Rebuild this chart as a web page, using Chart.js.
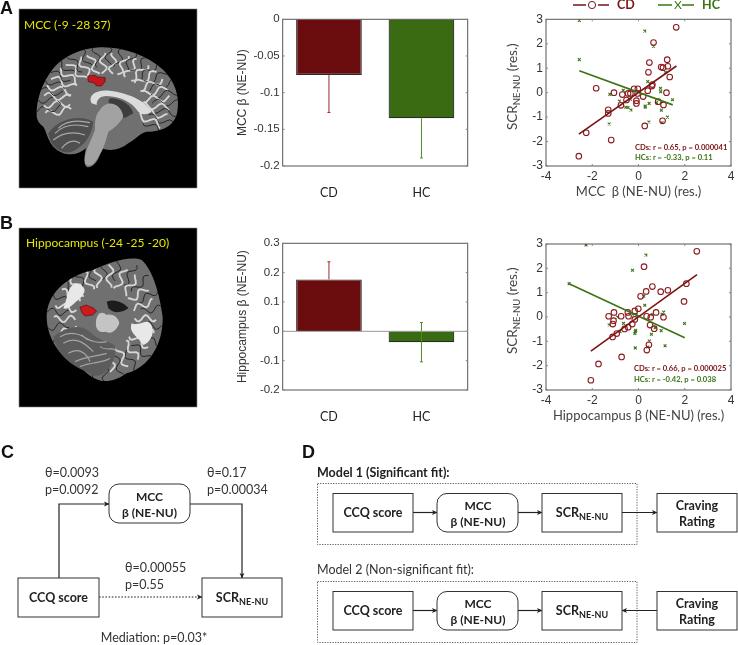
<!DOCTYPE html>
<html>
<head>
<meta charset="utf-8">
<title>MCC and hippocampus</title>
<script src="https://cdn.jsdelivr.net/npm/chart.js@4/dist/chart.umd.min.js"></script>
<style>
html, body { margin:0; padding:0; background:#fff; width:738px; height:645px; overflow:hidden; }
canvas { position:absolute; }
#overlay { position:absolute; left:0; top:0; }
#overlay text { font-family:Lato,"Open Sans",sans-serif; fill:#333; }
#overlay .b { font-weight:700; fill:#222; }
#overlay .box { fill:#fff; stroke:#333; stroke-width:1; }
#overlay .ln { fill:none; stroke:#222; stroke-width:1.2; }
#overlay .letter { font-family:"Liberation Sans",Arial,sans-serif; font-weight:700; font-size:18px; fill:#111; }
</style>
</head>
<body>
<canvas id="barA" width="270" height="215" style="left:220px;top:0"></canvas>
<canvas id="barB" width="270" height="205" style="left:220px;top:225px"></canvas>
<canvas id="scatterA" width="248" height="215" style="left:490px;top:0"></canvas>
<canvas id="scatterB" width="248" height="205" style="left:490px;top:225px"></canvas>

<svg id="overlay" width="738" height="645" viewBox="0 0 738 645" xmlns="http://www.w3.org/2000/svg">
  <defs>
    <filter id="soft"><feGaussianBlur stdDeviation="1.3"/></filter>
    <marker id="arr" markerWidth="6" markerHeight="6" refX="5" refY="3" orient="auto" markerUnits="userSpaceOnUse">
      <path d="M0,0.6 L5.5,3 L0,5.4 L1.3,3 Z" fill="#222"/>
    </marker>
    <clipPath id="clipA"><path d="M110,350 C108,300 125,250 160,205 C190,170 240,145 300,142 C370,140 440,165 490,210 C525,245 540,290 532,335 C525,375 490,395 440,395 L300,400 L140,390 C118,372 112,362 110,350 Z"/></clipPath>
    <clipPath id="clipB"><path d="M140,290 C140,230 190,170 280,150 C320,130 390,105 425,120 C460,150 480,230 488,290 C490,370 450,440 380,460 C330,495 290,490 250,450 C190,425 140,360 140,290 Z"/></clipPath>
  </defs>

  <!-- panel letters -->
  <text class="letter" x="0" y="14">A</text>
  <text class="letter" x="0" y="229">B</text>
  <text class="letter" x="1" y="458">C</text>
  <text class="letter" x="302" y="458">D</text>

  <!-- brain A, sagittal slice -->
  <rect x="19" y="9" width="178" height="179" fill="#000" stroke="#888" stroke-width=".6"/>
  <g transform="scale(.3333)">
    <g filter="url(#soft)">
      <path d="M110,350 C108,300 125,250 160,205 C190,170 240,145 300,142 C370,140 440,165 490,210 C525,245 540,290 532,335 C525,375 490,395 440,395 C420,400 410,415 385,430 C360,450 330,455 305,445 C300,475 285,500 265,502 C250,502 252,470 258,445 C230,470 190,470 160,440 C140,415 140,395 130,380 C118,372 112,362 110,350 Z" fill="#707070"/>
      <g id="foldsA" clip-path="url(#clipA)"></g>
      <path d="M275,310 C262,285 290,268 330,272 C380,278 435,300 455,335 C440,345 425,345 415,335 C395,305 360,290 320,288 C298,288 290,300 290,315 Z" fill="#dcdcdc"/>
      <path d="M330,295 C370,295 395,320 400,340 C380,350 370,365 345,340 C330,320 320,305 330,295 Z" fill="#3c3c3c"/>
      <path d="M300,330 C320,295 365,310 370,350 C355,375 340,385 325,395 C315,430 310,450 295,470 C285,495 262,505 255,490 C250,460 270,430 285,390 C285,365 285,345 300,330 Z" fill="#a2a2a2"/>
      <path d="M145,400 C170,360 235,340 280,365 C275,410 250,440 215,455 C185,465 150,440 145,400 Z" fill="#505050"/>
      <path d="M165,400 C190,375 225,370 265,380 M160,420 C190,395 225,395 255,405 M185,445 C205,420 225,420 240,430 M175,385 C200,360 235,360 270,368" fill="none" stroke="#a8a8a8" stroke-width="3.5"/>
    </g>
    <path d="M263,228 L285,226 L292,231 L316,233 L315,245 L304,258 L288,257 L283,249 L265,245 Z" fill="#c4161c" stroke="#300" stroke-width="1.5"/>
  </g>
  <text x="24" y="29" font-size="12" style="fill:#e6e600">MCC (-9 -28 37)</text>

  <!-- brain B, axial slice -->
  <rect x="19" y="228" width="178" height="179" fill="#000" stroke="#888" stroke-width=".6"/>
  <g transform="translate(0,220) scale(.3333)">
    <g filter="url(#soft)">
      <path d="M140,290 C140,230 190,170 280,150 C320,130 390,105 425,120 C460,150 480,230 488,290 C490,370 450,440 380,460 C330,495 290,490 250,450 C190,425 140,360 140,290 Z" fill="#707070"/>
      <g id="foldsB" clip-path="url(#clipB)"></g>
      <path d="M190,265 C205,230 200,205 225,190 C250,195 270,210 235,240 C215,255 205,270 190,265 Z" fill="#e8e8e8"/>
      <path d="M395,310 C420,320 435,295 450,310 C470,335 450,370 430,375 C415,350 385,340 395,310 Z" fill="#e8e8e8"/>
      <path d="M320,245 C345,235 375,250 385,265 C370,275 345,285 325,265 Z" fill="#1e1e1e"/>
      <path d="M160,350 C200,320 245,305 280,345 C320,375 355,360 345,400 C340,445 300,490 260,455 C210,435 170,400 160,350 Z" fill="#5c5c5c"/>
      <path d="M190,370 C230,345 260,375 280,395 M205,400 C235,380 260,400 270,425 M240,440 C275,425 310,430 330,415 M300,380 C320,395 335,380 345,390 M245,345 C265,365 300,370 320,365 M180,350 C215,330 250,345 262,360 M225,425 C255,410 285,410 320,400" fill="none" stroke="#a4a4a4" stroke-width="3.5"/>
      <path d="M288,305 C290,280 305,270 320,285 C335,280 355,290 358,310 C350,330 335,345 318,335 C300,340 285,330 288,305 Z" fill="#c4c4c4"/>
    </g>
    <path d="M240,262 L258,255 L280,264 L290,273 L278,285 L255,288 L246,278 Z" fill="#cc1a1e" stroke="#300" stroke-width="1.5"/>
  </g>
  <text x="26" y="247" font-size="12" style="fill:#e6e600">Hippocampus (-24 -25 -20)</text>

  <!-- scatter legend -->
  <path d="M573,5 H586 M598,5 H609" stroke="#7a1315" stroke-width="1.6" fill="none"/>
  <circle cx="592" cy="5" r="3.6" fill="#fff" stroke="#7a1315" stroke-width="1"/>
  <text x="617" y="9" font-size="12.5" font-weight="700" style="fill:#7a1315">CD</text>
  <path d="M658,5 H672 M682,5 H694" stroke="#3a7414" stroke-width="1.6" fill="none"/>
  <text x="674" y="9" font-size="12" style="fill:#3a7414">X</text>
  <text x="702" y="9" font-size="12.5" font-weight="700" style="fill:#3a7414">HC</text>

  <!-- scatter y titles -->
  <text transform="translate(517,130) rotate(-90)" font-size="13.5" style="fill:#444">SCR<tspan dy="3" font-size="9.5">NE-NU</tspan><tspan dy="-3"> (res.)</tspan></text>
  <text transform="translate(517,354) rotate(-90)" font-size="13.5" style="fill:#444">SCR<tspan dy="3" font-size="9.5">NE-NU</tspan><tspan dy="-3"> (res.)</tspan></text>

  <!-- scatter statistics -->
  <text x="635" y="150" font-size="7.6" font-weight="700" style="fill:#7a1315">CDs: r = 0.65, p = 0.000041</text>
  <text x="635" y="160" font-size="7.6" font-weight="700" style="fill:#3a7414">HCs: r = -0.33, p = 0.11</text>
  <text x="634" y="371" font-size="7.6" font-weight="700" style="fill:#7a1315">CDs: r = 0.66, p = 0.000025</text>
  <text x="634" y="382" font-size="7.6" font-weight="700" style="fill:#3a7414">HCs: r = -0.42, p = 0.038</text>

  <!-- panel C -->
  <path class="ln" d="M59,578 V504 H109" marker-end="url(#arr)"/>
  <path class="ln" d="M190,504 H242 V578" marker-end="url(#arr)"/>
  <path class="ln" d="M99,597 H202" stroke-dasharray="1.6 1.6" marker-end="url(#arr)"/>
  <rect class="box" x="18" y="578" width="81" height="39"/>
  <rect class="box" x="202" y="578" width="80" height="39"/>
  <rect class="box" x="109" y="484" width="81" height="39" rx="10"/>
  <text class="b" x="58.5" y="602" font-size="12.5" text-anchor="middle">CCQ score</text>
  <text class="b" x="242" y="602" font-size="12.5" text-anchor="middle">SCR<tspan dy="2.5" font-size="9">NE-NU</tspan></text>
  <text class="b" x="149.5" y="501" font-size="12" text-anchor="middle">MCC</text>
  <text class="b" x="149.5" y="517" font-size="12" text-anchor="middle">β (NE-NU)</text>
  <text x="45" y="477" font-size="12.5">θ=0.0093</text>
  <text x="45" y="494" font-size="12.5">p=0.0092</text>
  <text x="207" y="477" font-size="12.5">θ=0.17</text>
  <text x="207" y="494" font-size="12.5">p=0.00034</text>
  <text x="125" y="572" font-size="12.5">θ=0.00055</text>
  <text x="125" y="589" font-size="12.5">p=0.55</text>
  <text x="154" y="642" font-size="12.5" text-anchor="middle">Mediation: p=0.03*</text>

  <!-- panel D, model 1 -->
  <text class="b" x="317" y="477" font-size="12.5">Model 1 (Significant fit):</text>
  <rect x="317.5" y="483.5" width="319.5" height="61" fill="none" stroke="#555" stroke-width=".9" stroke-dasharray="1.3 1.3"/>
  <path class="ln" d="M413,512.5 H437" marker-end="url(#arr)"/>
  <path class="ln" d="M518,512.5 H542" marker-end="url(#arr)"/>
  <path class="ln" d="M622,512.5 H657" marker-end="url(#arr)"/>
  <rect class="box" x="333" y="493.5" width="80" height="38.5"/>
  <rect class="box" x="437" y="493.5" width="81" height="38.5" rx="10"/>
  <rect class="box" x="542" y="493.5" width="80" height="38.5"/>
  <rect class="box" x="657" y="493.5" width="80" height="38.5"/>
  <text class="b" x="373" y="517" font-size="12.5" text-anchor="middle">CCQ score</text>
  <text class="b" x="478" y="510" font-size="12" text-anchor="middle">MCC</text>
  <text class="b" x="478" y="526" font-size="12" text-anchor="middle">β (NE-NU)</text>
  <text class="b" x="582" y="517" font-size="12.5" text-anchor="middle">SCR<tspan dy="2.5" font-size="9">NE-NU</tspan></text>
  <text class="b" x="697" y="510" font-size="12.5" text-anchor="middle">Craving</text>
  <text class="b" x="697" y="526" font-size="12.5" text-anchor="middle">Rating</text>

  <!-- panel D, model 2 -->
  <text x="317" y="574" font-size="12.5">Model 2 (Non-significant fit):</text>
  <rect x="317.5" y="581.5" width="319.5" height="61" fill="none" stroke="#555" stroke-width=".9" stroke-dasharray="1.3 1.3"/>
  <path class="ln" d="M413,610.5 H437" marker-end="url(#arr)"/>
  <path class="ln" d="M518,610.5 H542" marker-end="url(#arr)"/>
  <path class="ln" d="M657,610.5 H622" marker-end="url(#arr)"/>
  <rect class="box" x="333" y="591.5" width="80" height="38.5"/>
  <rect class="box" x="437" y="591.5" width="81" height="38.5" rx="10"/>
  <rect class="box" x="542" y="591.5" width="80" height="38.5"/>
  <rect class="box" x="657" y="591.5" width="80" height="38.5"/>
  <text class="b" x="373" y="615" font-size="12.5" text-anchor="middle">CCQ score</text>
  <text class="b" x="478" y="608" font-size="12" text-anchor="middle">MCC</text>
  <text class="b" x="478" y="624" font-size="12" text-anchor="middle">β (NE-NU)</text>
  <text class="b" x="582" y="615" font-size="12.5" text-anchor="middle">SCR<tspan dy="2.5" font-size="9">NE-NU</tspan></text>
  <text class="b" x="697" y="608" font-size="12.5" text-anchor="middle">Craving</text>
  <text class="b" x="697" y="624" font-size="12.5" text-anchor="middle">Rating</text>
</svg>

<script>
// ---- data ----
const groups = ['CD', 'HC'];

const mccMeans = [-0.076, -0.135];
const mccErrLow = [-0.127, -0.189];
const mccErrHigh = [-0.076, -0.135];
const mccTicks = [-0.2, -0.15, -0.1, -0.05, 0];

const hipMeans = [0.177, -0.037];
const hipErrLow = [0.177, -0.104];
const hipErrHigh = [0.237, 0.03];
const hipTicks = [-0.2, -0.1, 0, 0.1, 0.2, 0.3];

const scatterXTicks = [-4, -2, 0, 2, 4];
const scatterYTicks = [-3, -2, -1, 0, 1, 2, 3];

const mccCdX = [1.63,.65,.47,.43,1.24,1.27,.98,1.06,1.35,1.21,.58,.6,.4,.2,-.03,-.19,-1.83,-1.06,-.7,-.45,-.35,-.09,-.09,-.52,-.76,-1.31,-1.31,.85,1.08,1.04,.27,-2.26,-1.18,-2.58,-.04];
const mccCdY = [2.67,2.05,1.23,.83,1.35,1.08,1.05,1.02,.64,0,.27,.33,.08,-.16,.16,.16,.18,0,-.08,-.03,-.03,-.33,-.44,-.3,-.52,-.7,-.85,-.37,-.5,-1.15,-1.36,-1.64,-1.94,-2.6,-.03];
const mccHcX = [-2.56,.27,.65,-2.56,1.17,.4,.95,.96,-.66,-.35,-1.24,-.83,-.35,1.47,.46,.29,.29,.78,-.55,-.45,-.33,.99,1.25,.45,1.02,-1.27];
const mccHcY = [2.95,2.52,1.9,1.35,.83,.45,.18,.04,.1,.11,-.07,-.34,-.27,-.29,-.44,-.55,-.6,-.41,-.6,-.61,-.71,-.72,-1,-1.2,-1.23,-1.28];
const mccCdFitX = [-2.58, 1.64];
const mccCdFitY = [-1.7, 1.09];
const mccHcFitX = [-2.56, 1.48];
const mccHcFitY = [.9, -.5];

const hipCdX = [2.52,.24,2.07,.6,1.27,.33,.96,.09,1.97,-.01,-.16,-.46,-1.06,-1.29,-.75,-.43,.76,.35,1.08,.53,-1.08,-1.11,-.16,-.27,-.45,-.6,-.94,-1.12,.5,.68,.45,.36,-.73,-1.73,-2.06];
const hipCdY = [2.7,2.07,1.37,1.25,1.1,1.05,1.04,.85,.64,.34,.25,.19,.19,.03,.03,.03,.19,.03,-.01,-.01,-.15,-.29,-.1,-.29,-.42,-.49,-.68,-.82,-.33,-.48,-1.14,-1.36,-1.64,-1.93,-2.6];
const hipHcX = [-2.27,.32,-.26,-3,.23,.27,-.91,-.23,-.09,1.09,1.02,.59,-1.27,-.65,1.99,.98,-.12,-.14,-.16,.56,.72,-.8,.47,.4,1.15,-.14];
const hipHcY = [2.96,2.55,1.92,1.37,.85,.48,0,.08,.08,.2,.11,.1,-.33,-.26,-.27,-.56,-.55,-.6,-.68,-.71,-.44,-.6,-.99,-1.23,-1.18,-1.27];
const hipCdFitX = [-2.06, 2.53];
const hipCdFitY = [-1.4, 1.74];
const hipHcFitX = [-3, 2];
const hipHcFitY = [1.37, -.85];

// ---- colours ----
const darkRed = '#7a1315';
const darkGreen = '#3a7414';
const axisGray = '#555';
const tickText = '#333';

Chart.defaults.animation = false;
Chart.defaults.responsive = false;
Chart.defaults.devicePixelRatio = 1;

function zip(xs, ys) {
  return xs.map((x, i) => ({x: x, y: ys[i]}));
}

// brain pictures only: wavy folds fanned out from the middle of the slice
function addFolds(id, cx, cy, rx, ry, from, to, count) {
  const g = document.getElementById(id);
  for (let i = 0; i < count; i++) {
    const a = (from + (to - from) * i / (count - 1)) * Math.PI / 180;
    const light = i % 2 === 0;
    const r0 = light ? 0.5 : 0.62, r1 = light ? 0.86 : 1.0;
    let d = '';
    for (let t = 0; t <= 1.001; t += 0.1) {
      const r = r0 + (r1 - r0) * t;
      const off = Math.sin(t * 9 + i * 1.7) * 10;
      const x = cx + Math.cos(a) * rx * r - Math.sin(a) * off;
      const y = cy + Math.sin(a) * ry * r + Math.cos(a) * off;
      d += (d ? 'L' : 'M') + x.toFixed(1) + ',' + y.toFixed(1);
    }
    const p = document.createElementNS('http://www.w3.org/2000/svg', 'path');
    p.setAttribute('d', d);
    p.setAttribute('fill', 'none');
    p.setAttribute('stroke', light ? '#d6d6d6' : '#262626');
    p.setAttribute('stroke-width', light ? 5.5 : 3);
    g.appendChild(p);
  }
}
addFolds('foldsA', 320, 305, 220, 170, 165, 395, 42);
addFolds('foldsB', 315, 295, 178, 188, 0, 350, 44);

// box round the plot and short inward ticks, like the original
const boxPlugin = {
  id: 'box',
  afterDatasetsDraw(chart) {
    const c = chart.ctx, a = chart.chartArea;
    c.save();
    c.strokeStyle = axisGray;
    c.lineWidth = 1;
    c.strokeRect(a.left, a.top, a.right - a.left, a.bottom - a.top);
    c.strokeStyle = '#888';
    chart.scales.y.ticks.forEach(t => {
      const y = chart.scales.y.getPixelForValue(t.value);
      c.beginPath();
      c.moveTo(a.left, y); c.lineTo(a.left + 2, y);
      c.moveTo(a.right, y); c.lineTo(a.right - 2, y);
      c.stroke();
    });
    if (chart.scales.x.type === 'linear') {
      chart.scales.x.ticks.forEach(t => {
        const x = chart.scales.x.getPixelForValue(t.value);
        c.beginPath();
        c.moveTo(x, a.bottom); c.lineTo(x, a.bottom - 2);
        c.moveTo(x, a.top); c.lineTo(x, a.top + 2);
        c.stroke();
      });
    }
    c.restore();
  }
};

function errorPlugin(low, high, colors) {
  return {
    id: 'errorBars',
    afterDatasetsDraw(chart) {
      const c = chart.ctx, y = chart.scales.y;
      const bars = chart.getDatasetMeta(0).data;
      c.save();
      c.lineWidth = 1;
      bars.forEach((b, i) => {
        c.strokeStyle = colors[i];
        const y1 = y.getPixelForValue(low[i]), y2 = y.getPixelForValue(high[i]);
        c.beginPath();
        c.moveTo(b.x, y1); c.lineTo(b.x, y2);
        if (low[i] < chart.data.datasets[0].data[i]) { c.moveTo(b.x - 1.5, y1); c.lineTo(b.x + 1.5, y1); }
        if (high[i] > chart.data.datasets[0].data[i]) { c.moveTo(b.x - 1.5, y2); c.lineTo(b.x + 1.5, y2); }
        c.stroke();
      });
      c.restore();
    }
  };
}

const zeroLine = {
  id: 'zeroLine',
  afterDatasetsDraw(chart) {
    const c = chart.ctx, a = chart.chartArea, y = chart.scales.y.getPixelForValue(0);
    c.save();
    c.strokeStyle = '#999';
    c.beginPath();
    c.moveTo(a.left, y); c.lineTo(a.right, y);
    c.stroke();
    c.restore();
  }
};

function barChart(id, means, low, high, ticks, ymin, ymax, title, top, bottom, extra) {
  new Chart(document.getElementById(id), {
    type: 'bar',
    data: {
      labels: groups,
      datasets: [{
        data: means,
        backgroundColor: ['#6b0d0f', '#3a6b12'],
        borderColor: '#2a2a2a',
        borderWidth: 1.2,
        categoryPercentage: 1,
        barPercentage: 0.71
      }]
    },
    options: {
      layout: {padding: {top: top, right: 22.3, left: 0, bottom: 0}},
      plugins: {legend: {display: false}, tooltip: {enabled: false}},
      scales: {
        x: {
          grid: {display: false, drawTicks: false}, border: {display: false},
          ticks: {padding: 19, color: '#222', font: {family: 'Lato', size: 12.5}, maxRotation: 0},
          afterFit: s => { s.height = bottom; }
        },
        y: {
          min: ymin, max: ymax,
          grid: {display: false, drawTicks: false}, border: {display: false},
          afterBuildTicks: s => { s.ticks = ticks.map(v => ({value: v})); },
          ticks: {
            padding: 3, color: tickText, font: {family: 'Liberation Sans', size: 11.5},
            callback: v => String(+v.toFixed(2))
          },
          title: {display: true, text: title, color: '#333', padding: {top: 15, bottom: 0}, font: {family: 'Liberation Sans', size: 12}},
          afterFit: s => { s.width = 62.7; }
        }
      }
    },
    plugins: [boxPlugin, errorPlugin(low, high, ['#9c2b30', '#4f8a2a'])].concat(extra || [])
  });
}

function scatterChart(id, cd, hc, cdFit, hcFit, title, top, bottom, titleGap) {
  new Chart(document.getElementById(id), {
    type: 'scatter',
    data: {
      datasets: [
        {data: cdFit, showLine: true, borderColor: darkRed, borderWidth: 1.6, pointRadius: 0},
        {data: hcFit, showLine: true, borderColor: darkGreen, borderWidth: 1.6, pointRadius: 0},
        {data: cd, pointStyle: 'circle', pointRadius: 2.8, backgroundColor: 'rgba(0,0,0,0)', borderColor: '#8c1c22', borderWidth: 1.1},
        {data: hc, pointStyle: 'crossRot', pointRadius: 2, borderColor: darkGreen, borderWidth: 1.1}
      ]
    },
    options: {
      layout: {padding: {top: top, right: 7, left: 0, bottom: 0}},
      plugins: {legend: {display: false}, tooltip: {enabled: false}},
      scales: {
        x: {
          type: 'linear', min: -4, max: 4,
          grid: {display: false, drawTicks: false}, border: {display: false},
          afterBuildTicks: s => { s.ticks = scatterXTicks.map(v => ({value: v})); },
          ticks: {padding: 3, color: tickText, font: {family: 'Liberation Sans', size: 12}, maxRotation: 0},
          title: {display: true, text: title, color: '#444', padding: {top: 3, bottom: titleGap}, font: {family: 'Lato', size: 13}},
          afterFit: s => { s.height = bottom; }
        },
        y: {
          min: -3, max: 3,
          grid: {display: false, drawTicks: false}, border: {display: false},
          afterBuildTicks: s => { s.ticks = scatterYTicks.map(v => ({value: v})); },
          ticks: {padding: 3, color: tickText, font: {family: 'Liberation Sans', size: 12}},
          afterFit: s => { s.width = 56; }
        }
      }
    },
    plugins: [boxPlugin]
  });
}

barChart('barA', mccMeans, mccErrLow, mccErrHigh, mccTicks, -0.2, 0, 'MCC β (NE-NU)', 19.3, 49);
barChart('barB', hipMeans, hipErrLow, hipErrHigh, hipTicks, -0.2, 0.3, 'Hippocampus β (NE-NU)', 18.3, 40, [zeroLine]);

scatterChart('scatterA', zip(mccCdX, mccCdY), zip(mccHcX, mccHcY), zip(mccCdFitX, mccCdFitY), zip(mccHcFitX, mccHcFitY), 'MCC  β (NE-NU) (res.)', 19.3, 49, 15);
scatterChart('scatterB', zip(hipCdX, hipCdY), zip(hipHcX, hipHcY), zip(hipCdFitX, hipCdFitY), zip(hipHcFitX, hipHcFitY), 'Hippocampus β (NE-NU) (res.)', 19, 40, 6);
</script>
</body>
</html>
